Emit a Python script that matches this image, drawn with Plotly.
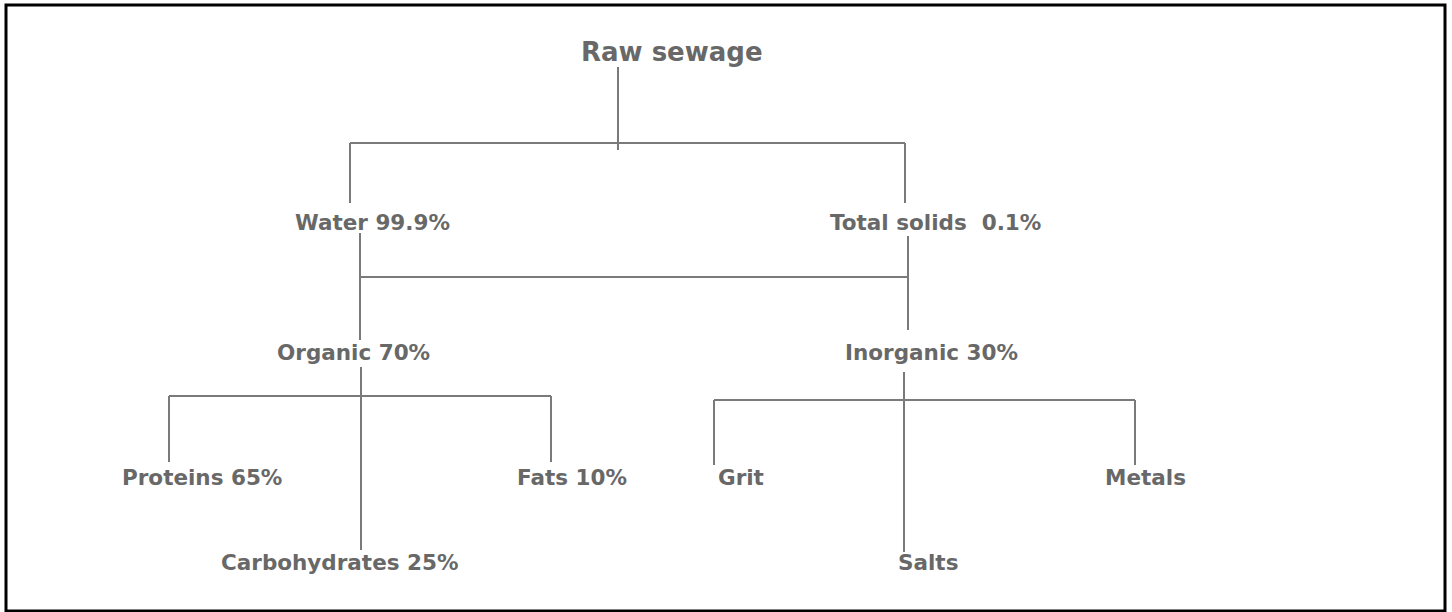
import plotly.graph_objects as go

# ---- data: tree of raw sewage composition ----
labels = ["Raw sewage", "Water 99.9%", "Total solids  0.1%", "Organic 70%", "Inorganic 30%",
          "Proteins 65%", "Carbohydrates 25%", "Fats 10%", "Grit", "Salts", "Metals"]
parents = ["", "Raw sewage", "Raw sewage", "Total solids  0.1%", "Total solids  0.1%",
           "Organic 70%", "Organic 70%", "Organic 70%", "Inorganic 30%", "Inorganic 30%", "Inorganic 30%"]

# ---- layout (pixel positions of node labels) ----
label_x = [672, 372, 935, 353, 931, 202, 339, 572, 741, 928, 1145]
label_y = [52, 222, 222, 352, 352, 477, 562, 477, 477, 562, 477]
label_size = [26, 21.5, 21.5, 21.5, 21.5, 21.5, 21.5, 21.5, 21.5, 21.5, 21.5]

# connector segments: (x0, y0, x1, y1)
segments = [
    (618, 67, 618, 150), (350, 143, 905, 143), (350, 143, 350, 203), (905, 143, 905, 203),
    (360, 233, 360, 340), (360, 277, 908, 277), (908, 236, 908, 330),
    (361, 367, 361, 550), (169, 396, 551, 396), (169, 396, 169, 462), (551, 396, 551, 462),
    (904, 372, 904, 552), (714, 400, 1135, 400), (714, 400, 714, 465), (1135, 400, 1135, 465),
]

xs, ys = [], []
for x0, y0, x1, y1 in segments:
    xs += [x0, x1, None]
    ys += [y0, y1, None]

fig = go.Figure()
fig.add_trace(go.Scatter(x=xs, y=ys, mode="lines",
                         line=dict(color="#7a7a7a", width=2),
                         hoverinfo="skip", showlegend=False))

for lab, x, y, s in zip(labels, label_x, label_y, label_size):
    fig.add_annotation(x=x, y=y, text=f"<b>{lab}</b>", showarrow=False,
                       xanchor="center", yanchor="middle",
                       font=dict(family="DejaVu Sans, sans-serif", size=s, color="#686868"))

fig.add_shape(type="rect", x0=6, y0=5, x1=1445, y1=611, xref="x", yref="y",
              line=dict(color="black", width=3))

fig.update_layout(
    width=1452, height=612,
    margin=dict(l=0, r=0, t=0, b=0),
    paper_bgcolor="white", plot_bgcolor="white",
    xaxis=dict(range=[0, 1452], visible=False, fixedrange=True),
    yaxis=dict(range=[612, 0], visible=False, fixedrange=True),
)

fig.write_html("out.html", config={"displayModeBar": False, "staticPlot": True},
               post_script="document.body.style.margin='0';document.body.style.overflow='hidden';")
